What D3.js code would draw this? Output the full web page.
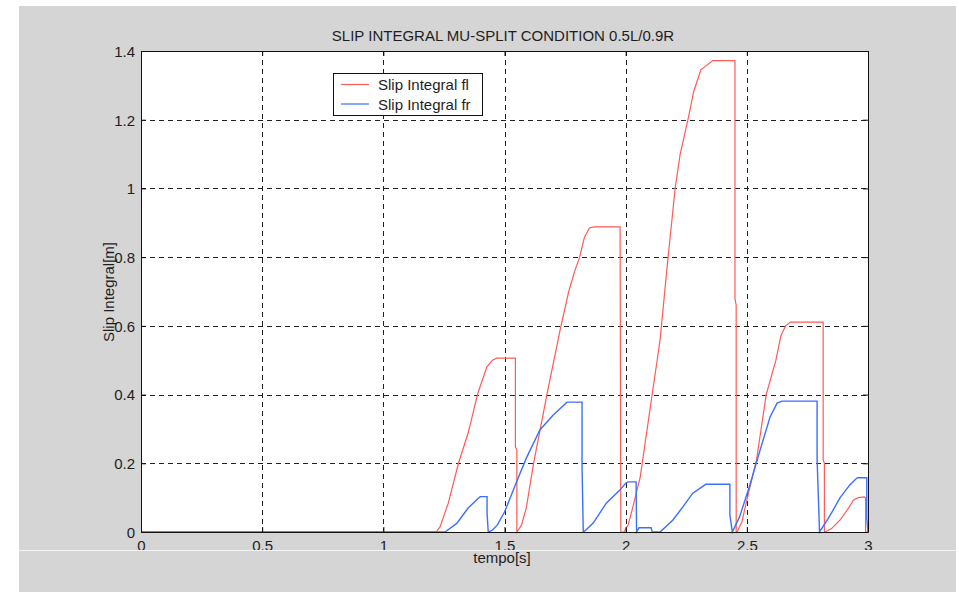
<!DOCTYPE html>
<html lang="en">
<head>
<meta charset="UTF-8">
<title>Slip integral</title>
<script src="https://cdn.jsdelivr.net/npm/d3@7/dist/d3.min.js"></script>
<style>
    html, body { margin: 0; padding: 0; background: #fff; }
    svg { display: block; }
    text { font-family: "Liberation Sans", Arial, Helvetica, sans-serif; fill: #1e1e1e; }
</style>
</head>
<body>
<svg width="959" height="592"></svg>
<script>
// tick labels
var xTicks = [0, 0.5, 1, 1.5, 2, 2.5, 3];
var yTicks = [0, 0.2, 0.4, 0.6, 0.8, 1, 1.2, 1.4];

// Slip Integral fl (red) - time [s] and value [m]
var tFl = [0, 1.218, 1.234, 1.268, 1.31, 1.35, 1.39, 1.427, 1.45, 1.468, 1.545, 1.545, 1.551, 1.551,
    1.57, 1.59, 1.62, 1.675, 1.73, 1.765, 1.79, 1.81, 1.83, 1.85, 1.87, 1.977, 1.98,
    1.993, 2.01, 2.03, 2.06, 2.10, 2.13, 2.142, 2.175, 2.205, 2.225, 2.26, 2.28, 2.31, 2.36, 2.451, 2.451, 2.456, 2.456,
    2.46, 2.48, 2.50, 2.54, 2.58, 2.62, 2.64, 2.66, 2.68, 2.815, 2.815, 2.82, 2.82,
    2.823, 2.85, 2.885, 2.92, 2.94, 2.96, 2.985, 2.99, 2.99, 3.0];
var slipFl = [0, 0, 0.015, 0.084, 0.20, 0.288, 0.404, 0.48, 0.50, 0.506, 0.506, 0.247, 0.24, 0,
    0.02, 0.07, 0.20, 0.40, 0.59, 0.70, 0.76, 0.80, 0.858, 0.885, 0.888, 0.888, 0,
    0, 0.02, 0.073, 0.16, 0.355, 0.50, 0.56, 0.80, 1.005, 1.10, 1.21, 1.28, 1.345, 1.372, 1.372, 0.68, 0.66, 0,
    0, 0.03, 0.093, 0.21, 0.40, 0.50, 0.57, 0.60, 0.611, 0.611, 0.21, 0.2, 0,
    0, 0.01, 0.035, 0.07, 0.093, 0.10, 0.102, 0.10, 0, 0];

// Slip Integral fr (blue)
var tFr = [0, 1.255, 1.27, 1.303, 1.344, 1.35, 1.392, 1.40, 1.428, 1.428, 1.433,
    1.45, 1.47, 1.50, 1.55, 1.59, 1.646, 1.70, 1.758, 1.82, 1.82, 1.825,
    1.835, 1.866, 1.92, 1.976, 2.0, 2.01, 2.043, 2.045,
    2.055, 2.105, 2.11, 2.142,
    2.195, 2.236, 2.277, 2.327, 2.33, 2.43, 2.43, 2.44,
    2.47, 2.51, 2.555, 2.596, 2.625, 2.645, 2.79, 2.79, 2.80,
    2.84, 2.885, 2.925, 2.954, 2.96, 2.995, 2.995, 3.0];
var slipFr = [0, 0, 0.008, 0.025, 0.064, 0.07, 0.098, 0.103, 0.103, 0.055, 0,
    0.005, 0.02, 0.058, 0.146, 0.215, 0.297, 0.34, 0.378, 0.378, 0.19, 0,
    0.005, 0.026, 0.084, 0.122, 0.142, 0.146, 0.146, 0,
    0.0125, 0.0125, 0, 0,
    0.035, 0.073, 0.113, 0.137, 0.139, 0.139, 0.05, 0,
    0.044, 0.131, 0.239, 0.335, 0.375, 0.381, 0.381, 0.21, 0,
    0.044, 0.10, 0.137, 0.157, 0.158, 0.158, 0.04, 0];

var legendNames = ['Slip Integral fl', 'Slip Integral fr'];
var colors = ['#ff5a55', '#3a6fff'];

var svg = d3.select('svg');
var fs = '15px';

// figure background
svg.append('rect').attr('x', 19).attr('y', 6).attr('width', 937).attr('height', 586).attr('fill', '#d5d5d5');

// plot box (avoid the name "top", it is window.top)
var pL = 141, pR = 868, pT = 51, pB = 532;
var x = d3.scaleLinear().domain([0, 3]).range([pL, pR]);
var y = d3.scaleLinear().domain([0, 1.4]).range([pB, pT]);

svg.append('rect').attr('x', pL).attr('y', pT).attr('width', pR - pL).attr('height', pB - pT)
    .attr('fill', '#fff');

// grid
var grid = svg.append('g').attr('stroke', '#222').attr('stroke-width', 1).attr('stroke-dasharray', '5,4');
grid.selectAll('.gx').data(xTicks.slice(1, -1)).enter().append('line')
    .attr('x1', function (d) { return Math.round(x(d)) + 0.5; })
    .attr('x2', function (d) { return Math.round(x(d)) + 0.5; })
    .attr('y1', pT).attr('y2', pB);
grid.selectAll('.gy').data(yTicks.slice(1, -1)).enter().append('line')
    .attr('y1', function (d) { return Math.round(y(d)) + 0.5; })
    .attr('y2', function (d) { return Math.round(y(d)) + 0.5; })
    .attr('x1', pL).attr('x2', pR);

// data lines
function makeLine(ts, vs) {
    return d3.line()
        .x(function (d, i) { return x(ts[i]); })
        .y(function (d, i) { return y(vs[i]); })(ts);
}
svg.append('path').attr('d', makeLine(tFl, slipFl)).attr('fill', 'none')
    .attr('stroke', colors[0]).attr('stroke-width', 1.2);
svg.append('path').attr('d', makeLine(tFr, slipFr)).attr('fill', 'none')
    .attr('stroke', colors[1]).attr('stroke-width', 1.4);

// axes: bottom/left with labels, top/right plain, ticks inside
var xAxis = d3.axisBottom(x).tickValues(xTicks).tickSizeInner(-5).tickSizeOuter(0).tickFormat(d3.format('~g'));
var yAxis = d3.axisLeft(y).tickValues(yTicks).tickSizeInner(-5).tickSizeOuter(0).tickFormat(d3.format('~g'));

var gx = svg.append('g').attr('transform', 'translate(0,' + pB + ')').call(xAxis);
gx.selectAll('text').attr('dy', null).attr('y', 19).style('font-size', fs);
var gy = svg.append('g').attr('transform', 'translate(' + pL + ',0)').call(yAxis);
gy.selectAll('text').attr('x', -6).attr('dy', '0.36em').style('font-size', fs);

svg.append('g').attr('transform', 'translate(0,' + pT + ')')
    .call(d3.axisTop(x).tickValues(xTicks).tickSizeInner(-5).tickSizeOuter(0).tickFormat(''));
svg.append('g').attr('transform', 'translate(' + pR + ',0)')
    .call(d3.axisRight(y).tickValues(yTicks).tickSizeInner(-5).tickSizeOuter(0).tickFormat(''));

svg.selectAll('.domain').attr('stroke', '#111');
svg.selectAll('.tick line').attr('stroke', '#111');
svg.selectAll('.tick text').style('font-family', '"Liberation Sans", Arial, sans-serif').attr('fill', '#1e1e1e');

// white separator line across the figure
svg.append('line').attr('x1', 19).attr('x2', 956).attr('y1', 550.5).attr('y2', 550.5)
    .attr('stroke', '#f4f4f4').attr('stroke-width', 1);

// labels
svg.append('text').attr('x', 503).attr('y', 41).attr('text-anchor', 'middle').style('font-size', fs)
    .text('SLIP INTEGRAL MU-SPLIT CONDITION 0.5L/0.9R');
svg.append('text').attr('x', 502).attr('y', 563).attr('text-anchor', 'middle').style('font-size', fs)
    .text('tempo[s]');
svg.append('text').attr('transform', 'translate(114,292) rotate(-90)').attr('text-anchor', 'middle')
    .style('font-size', fs).text('Slip Integral[m]');

// legend
var lg = svg.append('g');
lg.append('rect').attr('x', 333.5).attr('y', 73.5).attr('width', 149).attr('height', 42)
    .attr('fill', '#fff').attr('stroke', '#111');
legendNames.forEach(function (name, i) {
    var ly = 84.5 + i * 19.5;
    lg.append('line').attr('x1', 341).attr('x2', 369).attr('y1', ly).attr('y2', ly)
        .attr('stroke', colors[i]).attr('stroke-width', 1.2);
    lg.append('text').attr('x', 378).attr('y', ly + 5.5).style('font-size', fs).text(name);
});
</script>
</body>
</html>
